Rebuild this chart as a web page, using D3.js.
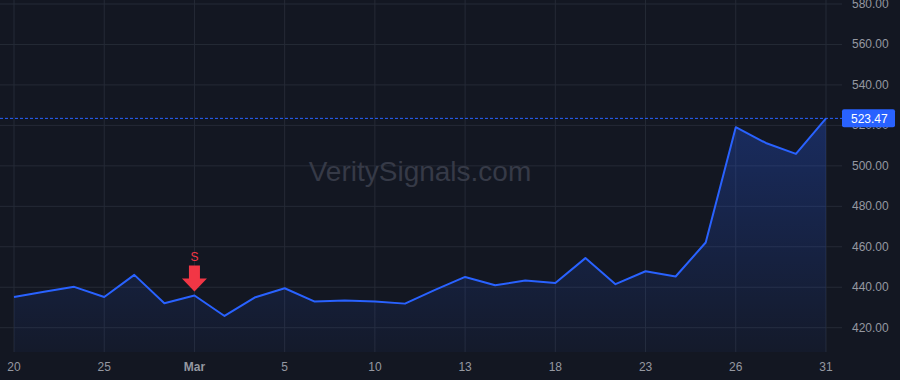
<!DOCTYPE html>
<html>
<head>
<meta charset="utf-8">
<script src="https://cdn.jsdelivr.net/npm/d3@7"></script>
<style>
  html, body { margin: 0; padding: 0; background: #131722; }
  svg { display: block; }
</style>
</head>
<body>
<div id="chart"></div>
<script>
(function() {

    // closing prices, one per bar
    const prices = [435.2, 437.8, 440.2, 435.2, 446.1, 432.1, 435.9, 425.8, 434.9, 439.5,
                    432.9, 433.4, 432.9, 431.9, 438.7, 445.1, 441.0, 443.3, 442.1, 454.4,
                    441.5, 447.9, 445.3, 462.1, 519.1, 511.3, 505.9, 523.47];

    // bottom axis labels and the bar they sit under
    const tickIndex = [0, 3, 6, 9, 12, 15, 18, 21, 24, 27];
    const tickLabels = ["20", "25", "Mar", "5", "10", "13", "18", "23", "26", "31"];

    const yTicks = [420, 440, 460, 480, 500, 520, 540, 560, 580];

    // sell signal
    const signalIndex = [6];
    const signalLabel = ["S"];

    const lastPrice = 523.47;

    const width = 900, height = 380;
    const plotRight = 842, plotBottom = 352;

    const svg = d3.select("#chart").append("svg")
                .attr("width", width)
                .attr("height", height)
                .style("font-family", "'Liberation Sans', Arial, sans-serif");

    svg.append("rect").attr("width", width).attr("height", height).attr("fill", "#131722");

    const x = d3.scaleLinear().domain([0, prices.length - 1]).range([14, 826]);
    const y = d3.scaleLinear().domain([420, 580]).range([327.7, 4]);

    // grid
    svg.append("g").selectAll("line").data(yTicks).join("line")
        .attr("x1", 0).attr("x2", plotRight)
        .attr("y1", d => y(d)).attr("y2", d => y(d))
        .attr("stroke", "#252a36").attr("stroke-width", 1);

    svg.append("g").selectAll("line").data(tickIndex).join("line")
        .attr("x1", d => x(d)).attr("x2", d => x(d))
        .attr("y1", 0).attr("y2", plotBottom)
        .attr("stroke", "#252a36").attr("stroke-width", 1);

    // watermark
    svg.append("text")
        .attr("x", 420).attr("y", 181)
        .attr("text-anchor", "middle")
        .attr("font-size", 28)
        .attr("fill", "#363a47")
        .text("VeritySignals.com");

    // area + line
    const grad = svg.append("defs").append("linearGradient")
        .attr("id", "fill").attr("x1", 0).attr("x2", 0).attr("y1", 0).attr("y2", 1);
    grad.append("stop").attr("offset", "0%").attr("stop-color", "#2962ff").attr("stop-opacity", 0.28);
    grad.append("stop").attr("offset", "100%").attr("stop-color", "#2962ff").attr("stop-opacity", 0.04);

    const area = d3.area()
        .x((d, i) => x(i))
        .y0(plotBottom)
        .y1(d => y(d));

    svg.append("path")
        .datum(prices)
        .attr("d", area)
        .attr("fill", "url(#fill)");

    const line = d3.line()
        .x((d, i) => x(i))
        .y(d => y(d));

    svg.append("path")
        .datum(prices)
        .attr("d", line)
        .attr("fill", "none")
        .attr("stroke", "#2962ff")
        .attr("stroke-width", 2)
        .attr("stroke-linejoin", "round");

    // last price line
    svg.append("line")
        .attr("x1", 0).attr("x2", plotRight)
        .attr("y1", y(lastPrice)).attr("y2", y(lastPrice))
        .attr("stroke", "#2962ff")
        .attr("stroke-width", 1)
        .attr("stroke-dasharray", "3,2");

    // right axis labels
    svg.append("g").selectAll("text").data(yTicks).join("text")
        .attr("x", 852).attr("y", d => y(d) + 4)
        .attr("font-size", 12)
        .attr("fill", "#9598a1")
        .text(d => d3.format(".2f")(d));

    // last price badge
    const badge = svg.append("g").attr("transform", "translate(842," + y(lastPrice) + ")");
    badge.append("rect")
        .attr("x", 0).attr("y", -9).attr("width", 53).attr("height", 18).attr("rx", 2)
        .attr("fill", "#2962ff");
    badge.append("text")
        .attr("x", 9).attr("y", 4.5)
        .attr("font-size", 12)
        .attr("fill", "#ffffff")
        .text(d3.format(".2f")(lastPrice));

    // bottom axis labels
    svg.append("g").selectAll("text").data(tickIndex).join("text")
        .attr("x", d => x(d)).attr("y", 371)
        .attr("text-anchor", "middle")
        .attr("font-size", 12)
        .attr("font-weight", (d, i) => tickLabels[i] === "Mar" ? "bold" : "normal")
        .attr("fill", "#9598a1")
        .text((d, i) => tickLabels[i]);

    // signal arrows
    const sig = svg.append("g").selectAll("g").data(signalIndex).join("g")
        .attr("transform", d => "translate(" + x(d) + "," + (y(prices[d]) - 4) + ")");
    sig.append("path")
        .attr("d", "M-5.5,-26 L5.5,-26 L5.5,-13 L12.5,-13 L0,0 L-12.5,-13 L-5.5,-13 Z")
        .attr("fill", "#f23645");
    sig.append("text")
        .attr("x", 0).attr("y", -31)
        .attr("text-anchor", "middle")
        .attr("font-size", 12)
        .attr("fill", "#f23645")
        .text((d, i) => signalLabel[i]);

})();
</script>
</body>
</html>
